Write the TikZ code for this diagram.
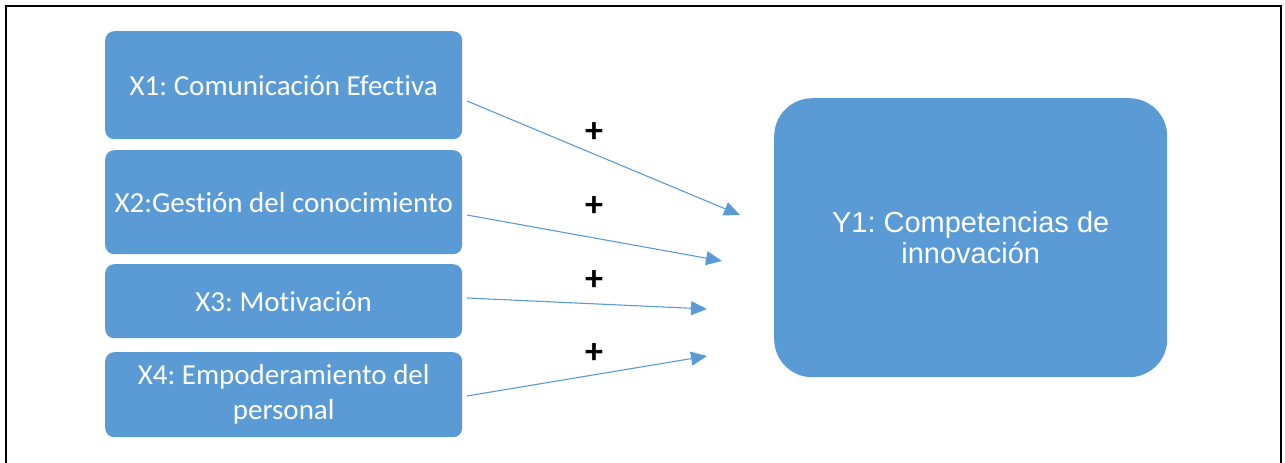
\documentclass[tikz,border=0pt]{standalone}
\usepackage{fontspec}
\setmainfont{Carlito}[Ligatures=NoCommon]
\newfontfamily\arialfont{Liberation Sans}
\usetikzlibrary{arrows.meta}
\definecolor{boxblue}{HTML}{5B9BD5}
\frenchspacing
\begin{document}
\begin{tikzpicture}[x=1pt,y=-1pt,
  varbox/.style={fill=boxblue, draw=none, rounded corners=9pt, text=white,
    font=\fontsize{29}{35}\selectfont, align=center, inner sep=0pt,
    minimum width=357pt, anchor=north west},
  outbox/.style={fill=boxblue, draw=none, rounded corners=38pt, text=white,
    font=\arialfont\fontsize{29}{31}\selectfont, align=center, inner sep=0pt,
    minimum width=393pt, minimum height=279pt, anchor=north west},
  link/.style={draw=boxblue, line width=1.1pt,
    -{Triangle[length=16pt,width=14pt]}},
  sign/.style={font=\bfseries\fontsize{36}{36}\selectfont, text=black, inner sep=0pt}]
\useasboundingbox (0,0) rectangle (1285,463);
% outer frame
\draw[line width=1.8pt] (6,475) -- (6,6) -- (1281,6) -- (1281,475);

% input variables
\node[varbox, minimum height=108pt] (x1) at (105,31) {X1: Comunicación Efectiva};
\node[varbox, minimum height=104pt] (x2) at (105,150) {X2:Gestión del conocimiento};
\node[varbox, minimum height=74pt]  (x3) at (105,264) {X3: Motivación};
\node[varbox, minimum height=85pt]  (x4) at (105,352) {X4: Empoderamiento del\\personal};

% outcome variable
\node[outbox] (y1) at (774,98) {\raisebox{12pt}{\parbox{393pt}{\centering Y1: Competencias de\\innovación}}};

% connector end points
\coordinate (s1) at (467,101);
\coordinate (t1) at (740,215);
\coordinate (s2) at (467,215);
\coordinate (t2) at (722,261);
\coordinate (s3) at (467,298);
\coordinate (t3) at (707,309);
\coordinate (s4) at (467,396);
\coordinate (t4) at (707,356);

\draw[link] (s1) -- (t1);
\draw[link] (s2) -- (t2);
\draw[link] (s3) -- (t3);
\draw[link] (s4) -- (t4);

% signs
\node[sign] (p1) at (594,133) {+};
\node[sign] (p2) at (594,207) {+};
\node[sign] (p3) at (594,281) {+};
\node[sign] (p4) at (594,354) {+};
\end{tikzpicture}
\end{document}
